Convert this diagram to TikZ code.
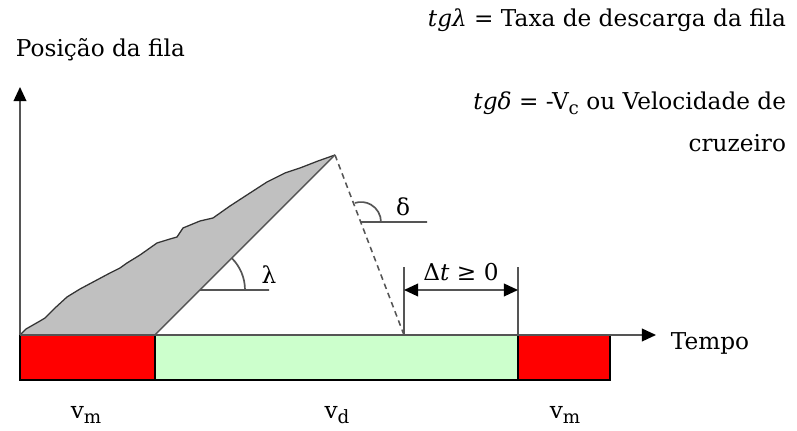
\documentclass[tikz,border=0pt]{standalone}
\usepackage{fontspec}
\setmainfont{DejaVu Serif}
\usetikzlibrary{arrows.meta}
\definecolor{fila}{HTML}{C0C0C0}
\definecolor{verde}{HTML}{CCFFCC}
\definecolor{linha}{HTML}{555555}
\newcommand\baixo[1]{\raisebox{-.4ex}{\fontsize{13}{13}\selectfont#1}}
\begin{document}
\begin{tikzpicture}[x=.025cm,y=.025cm,font=\fontsize{16.5}{19}\selectfont,
  seta/.tip={Triangle[length=10pt,width=9pt,color=black]},
  eixo/.style={draw=linha,line width=1.2pt,-seta},
  cota/.style={draw=linha,line width=1.2pt,seta-seta},
  barra/.style={draw=black,line width=1pt}]
\useasboundingbox(0,0)rectangle(797,431);
\coordinate(O)at(20,96);\coordinate(Y)at(20,344);\coordinate(X)at(656,96);
\coordinate(P)at(335,276);\coordinate(Q)at(155,96);\coordinate(R)at(404,96);\coordinate(S)at(518,96);
\coordinate(L)at(200,141);\coordinate(D)at(361,209);
\coordinate(T1)at(404,164);\coordinate(T2)at(518,164);\coordinate(A1)at(404,141);\coordinate(A2)at(518,141);
% fila acumulada
\fill[fila](O)--plot coordinates{(26,102)(33,106)(40,110)(45,113)(55,123)(67,134)(80,142)(95,150)(110,158)(120,163)(127,168)(140,176)(157,188)(170,192)(177,194)(183,203)(200,210)(213,213)(230,225)(250,238)(267,249)(285,258)(300,263)(318,270)}--(P)--(Q)--cycle;
\draw[line width=.9pt,black!80](O)--plot coordinates{(26,102)(33,106)(40,110)(45,113)(55,123)(67,134)(80,142)(95,150)(110,158)(120,163)(127,168)(140,176)(157,188)(170,192)(177,194)(183,203)(200,210)(213,213)(230,225)(250,238)(267,249)(285,258)(300,263)(318,270)}--(P);
\draw[linha,line width=1pt](Q)--(P);
\draw[linha,line width=1.1pt,dash pattern=on 4pt off 3pt](P)--(R);
% barras
\draw[barra,fill=red](20,51)rectangle(Q);
\draw[barra,fill=verde](155,51)rectangle(S);
\draw[barra,fill=red](518,51)rectangle(610,96);
\draw[eixo](O)--(Y);\draw[eixo](O)--(X);
% angulos
\draw[linha,line width=1.2pt](L)--++(69,0) (L)++(45,0)arc(0:45:45);
\draw[linha,line width=1.2pt](D)--++(66,0) (D)++(20,0)arc(0:108:20);
% cota
\draw[linha,line width=1.2pt](R)--(T1) (S)--(T2);
\draw[cota](A1)--(A2);
\foreach\n/\p/\t in{lam/{(269,156)}/λ,del/{(403,224)}/δ,dt/{(461,159)}/{Δ\textit{t} ≥ 0},vm1/{(86,16)}/v\baixo{m},vd/{(337,16)}/v\baixo{d},vm2/{(565,16)}/v\baixo{m}}{\node(\n)at\p{\t};}
\node[anchor=west](pos)at(11,381){Posição da fila};
\node[anchor=west](tempo)at(666,88){Tempo};
\node[anchor=east](tgl)at(791,411){\textit{tgλ} = Taxa de descarga da fila};
\node[anchor=east](tgd)at(791,328){\textit{tgδ} = -V\baixo{c} ou Velocidade de};
\node[anchor=east](cru)at(791,288){cruzeiro};
\end{tikzpicture}
\end{document}
